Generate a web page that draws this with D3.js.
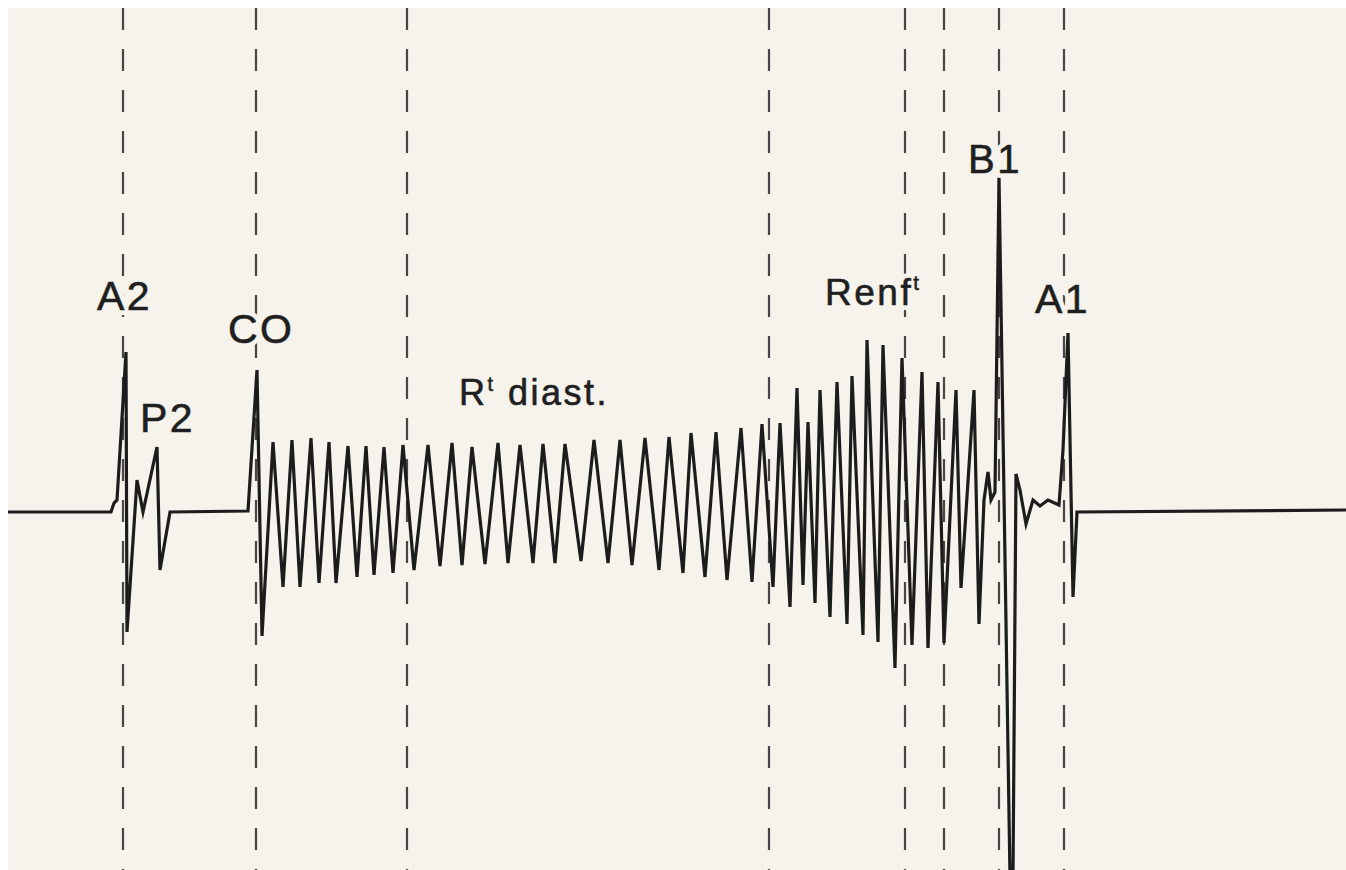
<!DOCTYPE html>
<html>
<head>
<meta charset="utf-8">
<script src="https://cdn.jsdelivr.net/npm/d3@7"></script>
<style>
  html, body { margin: 0; padding: 0; background: #ffffff; }
  svg { display: block; }
  .label { font-family: "Liberation Sans", Arial, sans-serif; fill: #1f1f1f; stroke: #1f1f1f; stroke-width: 0.6; }
  .halo { font-family: "Liberation Sans", Arial, sans-serif; fill: #f5f3eb; stroke: #f5f3eb; stroke-width: 10; stroke-linejoin: round; }
</style>
</head>
<body>
<svg id="chart" width="1346" height="870"></svg>
<script>
// trace samples: time (units) and amplitude (units, 0 = baseline, up = positive)
const traceTime = [
  0, 103, 106, 109, 118, 119, 129, 135, 149, 152, 162, 240, 249, 254,
  265, 275, 284, 292, 303, 311, 321, 328, 340, 349, 358, 366, 376, 385, 395, 406,
  420, 432, 444, 454, 464, 477, 490, 500, 512, 525, 535, 547, 557, 573,
  586, 600, 612, 624, 637, 651, 661, 675, 683, 697, 708, 719, 733, 744, 754, 765,
  772, 782, 789, 795, 800, 807, 812, 822, 829, 839, 844, 855, 859, 870,
  875, 887, 894, 904, 914, 920, 930, 936, 948, 953, 966, 971,
  976, 980, 983, 987, 991, 1002, 1005, 1008, 1012, 1018, 1025, 1032, 1040, 1051,
  1055, 1060, 1065, 1069, 1338
];
const traceAmp = [
  0, 0, 9, 12, 160, -120, 32, 0, 65, -58, 0, 1, 142, -124,
  70, -75, 72, -75, 74, -71, 70, -71, 66, -65, 66, -63, 65, -61, 67, -58,
  67, -54, 69, -53, 65, -52, 69, -51, 67, -51, 68, -51, 68, -49,
  72, -51, 72, -53, 74, -58, 75, -61, 79, -65, 80, -68, 84, -70, 88, -75,
  89, -95, 124, -73, 90, -91, 122, -105, 130, -112, 136, -123, 172, -130,
  167, -156, 154, -133, 140, -136, 130, -131, 122, -76, 122, -112,
  12, 40, 12, 20, 334, -365, -365, 38, 22, -12, 12, 6, 12, 7,
  62, 179, -85, 0, 2
];

// dashed event markers (time units)
const markerTimes = [115, 248, 399, 761, 897, 936, 991, 1056];

// labels: text, superscript, tail, anchor time, anchor amplitude
const labelText = ["A2", "P2", "CO", "R", "Renf", "B1", "A1"];
const labelSup  = ["", "", "", "t", "t", "", ""];
const labelTail = ["", "", "", " diast.", "", "", ""];
const labelTime = [89, 132, 220, 451, 817, 960, 1027];
const labelAmp  = [202, 80, 169, 107, 207, 339, 199];
const labelSize = [41, 41, 41, 36, 37, 40, 41];

const width = 1346, height = 870;
const margin = { top: 8, left: 8 };

const svg = d3.select("#chart");

// paper background
svg.append("rect")
  .attr("x", margin.left).attr("y", margin.top)
  .attr("width", width - margin.left).attr("height", height - margin.top)
  .attr("fill", "#f5f3eb");

const x = d3.scaleLinear().domain([0, 1338]).range([margin.left, width]);
const y = d3.scaleLinear().domain([-360, 360]).range([872, 152]);

svg.append("clipPath").attr("id", "clip")
  .append("rect")
  .attr("x", margin.left).attr("y", margin.top)
  .attr("width", width - margin.left).attr("height", height - margin.top);

// dashed markers
svg.append("g")
  .selectAll("line")
  .data(markerTimes)
  .join("line")
  .attr("x1", (d) => x(d)).attr("x2", (d) => x(d))
  .attr("y1", margin.top).attr("y2", height)
  .attr("stroke", "#4a4446")
  .attr("stroke-width", 2.2)
  .attr("stroke-dasharray", "22,19");

// draw one label (used for halo and for the text itself)
const drawLabel = (g, i, cls) => {
  const t = g.append("text")
    .attr("class", cls)
    .attr("x", x(labelTime[i]))
    .attr("y", y(labelAmp[i]))
    .attr("font-size", labelSize[i])
    .attr("letter-spacing", 2.5);
  t.append("tspan").text(labelText[i]);
  if (labelSup[i]) {
    t.append("tspan")
      .attr("font-size", labelSize[i] * 0.55)
      .attr("dy", -labelSize[i] * 0.4)
      .text(labelSup[i]);
  }
  if (labelTail[i]) {
    t.append("tspan")
      .attr("dy", labelSize[i] * 0.4)
      .text(labelTail[i]);
  }
};

// halos break the dashed lines behind the labels
const haloG = svg.append("g");
labelText.forEach((_, i) => drawLabel(haloG, i, "halo"));

// waveform
const points = traceTime.map((t, i) => [t, traceAmp[i]]);
const line = d3.line()
  .x((d) => x(d[0]))
  .y((d) => y(d[1]));

svg.append("path")
  .datum(points)
  .attr("clip-path", "url(#clip)")
  .attr("d", line)
  .attr("fill", "none")
  .attr("stroke", "#1c1c1c")
  .attr("stroke-width", 3.2)
  .attr("stroke-linejoin", "miter")
  .attr("stroke-miterlimit", 6);

// labels
const labelG = svg.append("g");
labelText.forEach((_, i) => drawLabel(labelG, i, "label"));
</script>
</body>
</html>
